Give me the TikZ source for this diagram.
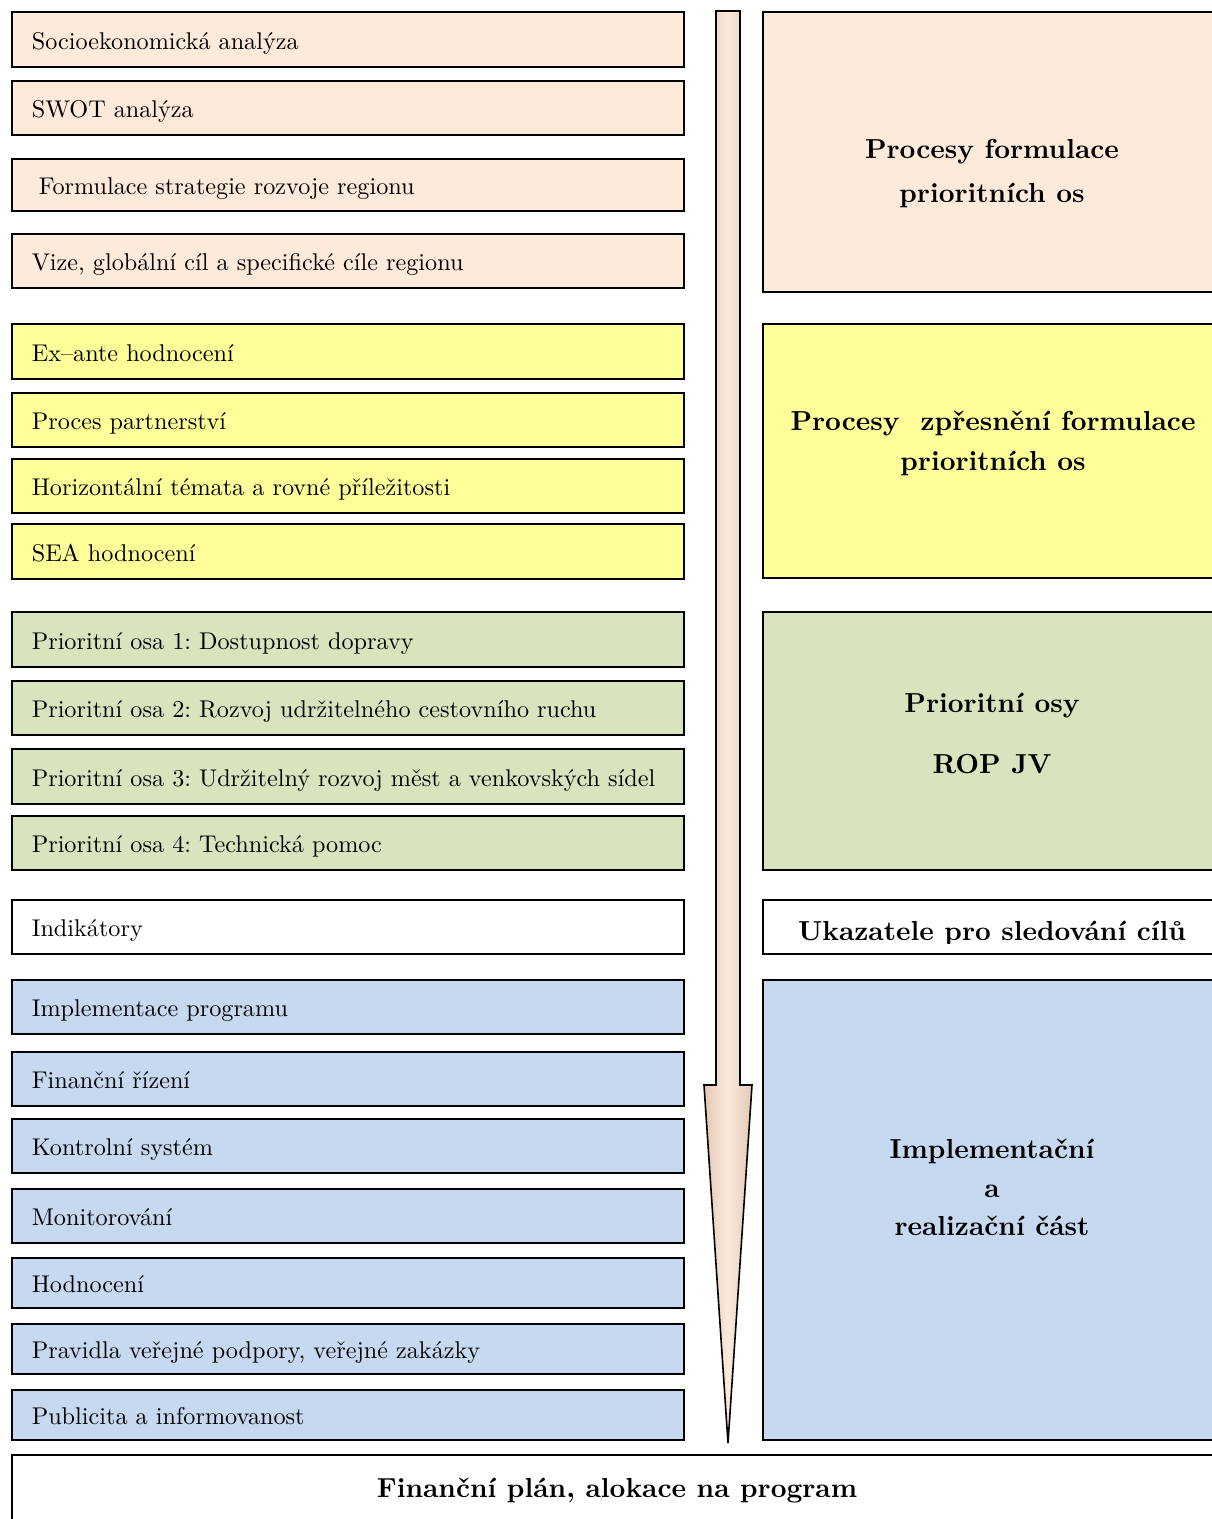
\documentclass[tikz,border=0pt]{standalone}
\usepackage{fontspec}
\setmainfont{lmroman10-regular.otf}[BoldFont=lmroman10-bold.otf]
\frenchspacing
\definecolor{peach}{HTML}{FDEADA}
\definecolor{yel}{HTML}{FFFF99}
\definecolor{grn}{HTML}{D7E4BD}
\definecolor{blu}{HTML}{C6D9F1}
\definecolor{arrowdark}{HTML}{E2C8B6}
\newcommand{\regfont}{\fontsize{24.2}{30}\selectfont}
\newcommand{\bldfont}{\fontsize{27.5}{33}\selectfont\bfseries}
\newcommand{\lefttext}[1]{\makebox[632pt][l]{#1}}
\begin{document}
\begin{tikzpicture}[x=1pt,y=-1pt,
  lbox/.style={draw, line width=1.6pt, anchor=north west, minimum width=672pt,
    inner xsep=20pt, inner ysep=0pt,
    text height=25pt, text depth=5pt, font=\regfont},
  rbox/.style={draw, line width=1.6pt, anchor=north west, minimum width=480pt, inner sep=0pt},
  rtext/.style={anchor=base, inner sep=0pt, font=\bldfont}]
\useasboundingbox (0,0) rectangle (1212,1519);
\clip (0,0) rectangle (1212,1519);

% left boxes
\node[lbox, fill=peach, minimum height=55pt] (a1) at (11,11) {\lefttext{Socioekonomická analýza}};
\node[lbox, fill=peach, minimum height=54pt] (a2) at (11,80) {\lefttext{SWOT analýza}};
\node[lbox, fill=peach, minimum height=52pt] (a3) at (11,158) {\lefttext{\hspace*{7pt}Formulace strategie rozvoje regionu}};
\node[lbox, fill=peach, minimum height=54pt] (a4) at (11,233) {\lefttext{Vize, globální cíl a specifické cíle regionu}};

\node[lbox, fill=yel, minimum height=55pt] (b1) at (11,323) {\lefttext{Ex–ante hodnocení}};
\node[lbox, fill=yel, minimum height=54pt] (b2) at (11,392) {\lefttext{Proces partnerství}};
\node[lbox, fill=yel, minimum height=54pt] (b3) at (11,458) {\lefttext{Horizontální témata a rovné příležitosti}};
\node[lbox, fill=yel, minimum height=55pt] (b4) at (11,523) {\lefttext{SEA hodnocení}};

\node[lbox, fill=grn, minimum height=55pt] (c1) at (11,611) {\lefttext{Prioritní osa 1: Dostupnost dopravy}};
\node[lbox, fill=grn, minimum height=54pt] (c2) at (11,680) {\lefttext{Prioritní osa 2: Rozvoj udržitelného cestovního ruchu}};
\node[lbox, fill=grn, minimum height=55pt] (c3) at (11,748) {\lefttext{Prioritní osa 3: Udržitelný rozvoj měst a venkovských sídel}};
\node[lbox, fill=grn, minimum height=54pt] (c4) at (11,815) {\lefttext{Prioritní osa 4: Technická pomoc}};

\node[lbox, fill=white, minimum height=54pt] (d1) at (11,899) {\lefttext{Indikátory}};

\node[lbox, fill=blu, minimum height=54pt] (e1) at (11,979) {\lefttext{Implementace programu}};
\node[lbox, fill=blu, minimum height=54pt] (e2) at (11,1051) {\lefttext{Finanční řízení}};
\node[lbox, fill=blu, minimum height=54pt] (e3) at (11,1118) {\lefttext{Kontrolní systém}};
\node[lbox, fill=blu, minimum height=54pt] (e4) at (11,1188) {\lefttext{Monitorování}};
\node[lbox, fill=blu, minimum height=50pt] (e5) at (11,1257) {\lefttext{Hodnocení}};
\node[lbox, fill=blu, minimum height=50pt] (e6) at (11,1323) {\lefttext{Pravidla veřejné podpory, veřejné zakázky}};
\node[lbox, fill=blu, minimum height=50pt] (e7) at (11,1389) {\lefttext{Publicita a informovanost}};

% right boxes
\node[rbox, fill=peach, minimum height=280pt] (r1) at (762,11) {};
\node[rbox, fill=yel, minimum height=254pt] (r2) at (762,323) {};
\node[rbox, fill=grn, minimum height=258pt] (r3) at (762,611) {};
\node[rbox, fill=white, minimum height=54pt] (r4) at (762,899) {};
\node[rbox, fill=blu, minimum height=460pt] (r5) at (762,979) {};

\node[rtext] (t1a) at (992,158) {Procesy formulace};
\node[rtext] (t1b) at (992,202) {prioritních os};
\node[rtext] (t2a) at (993,430) {Procesy\ \ zpřesnění formulace};
\node[rtext] (t2b) at (993,470) {prioritních os};
\node[rtext] (t3a) at (992,712) {Prioritní osy};
\node[rtext] (t3b) at (992,773) {ROP JV};
\begin{scope}
\clip (762,899) rectangle (1212,943);
\node[rtext] (t4) at (992,940) {Ukazatele pro sledování cílů};
\end{scope}
\node[rtext] (t5a) at (992,1158) {Implementační};
\node[rtext] (t5b) at (992,1197) {a};
\node[rtext] (t5c) at (992,1235) {realizační část};

% bottom box
\node[rbox, fill=white, minimum width=1250pt, minimum height=100pt] (f) at (11,1454) {};
\node[rtext] (ft) at (617,1497) {Finanční plán, alokace na program};

% arrow
\draw[line width=1.6pt, left color=arrowdark, right color=arrowdark, middle color=peach]
  (716,11) -- (740,11) -- (740,1085) -- (752,1085) -- (728,1443) -- (704,1085) -- (716,1085) -- cycle;
\end{tikzpicture}
\end{document}
